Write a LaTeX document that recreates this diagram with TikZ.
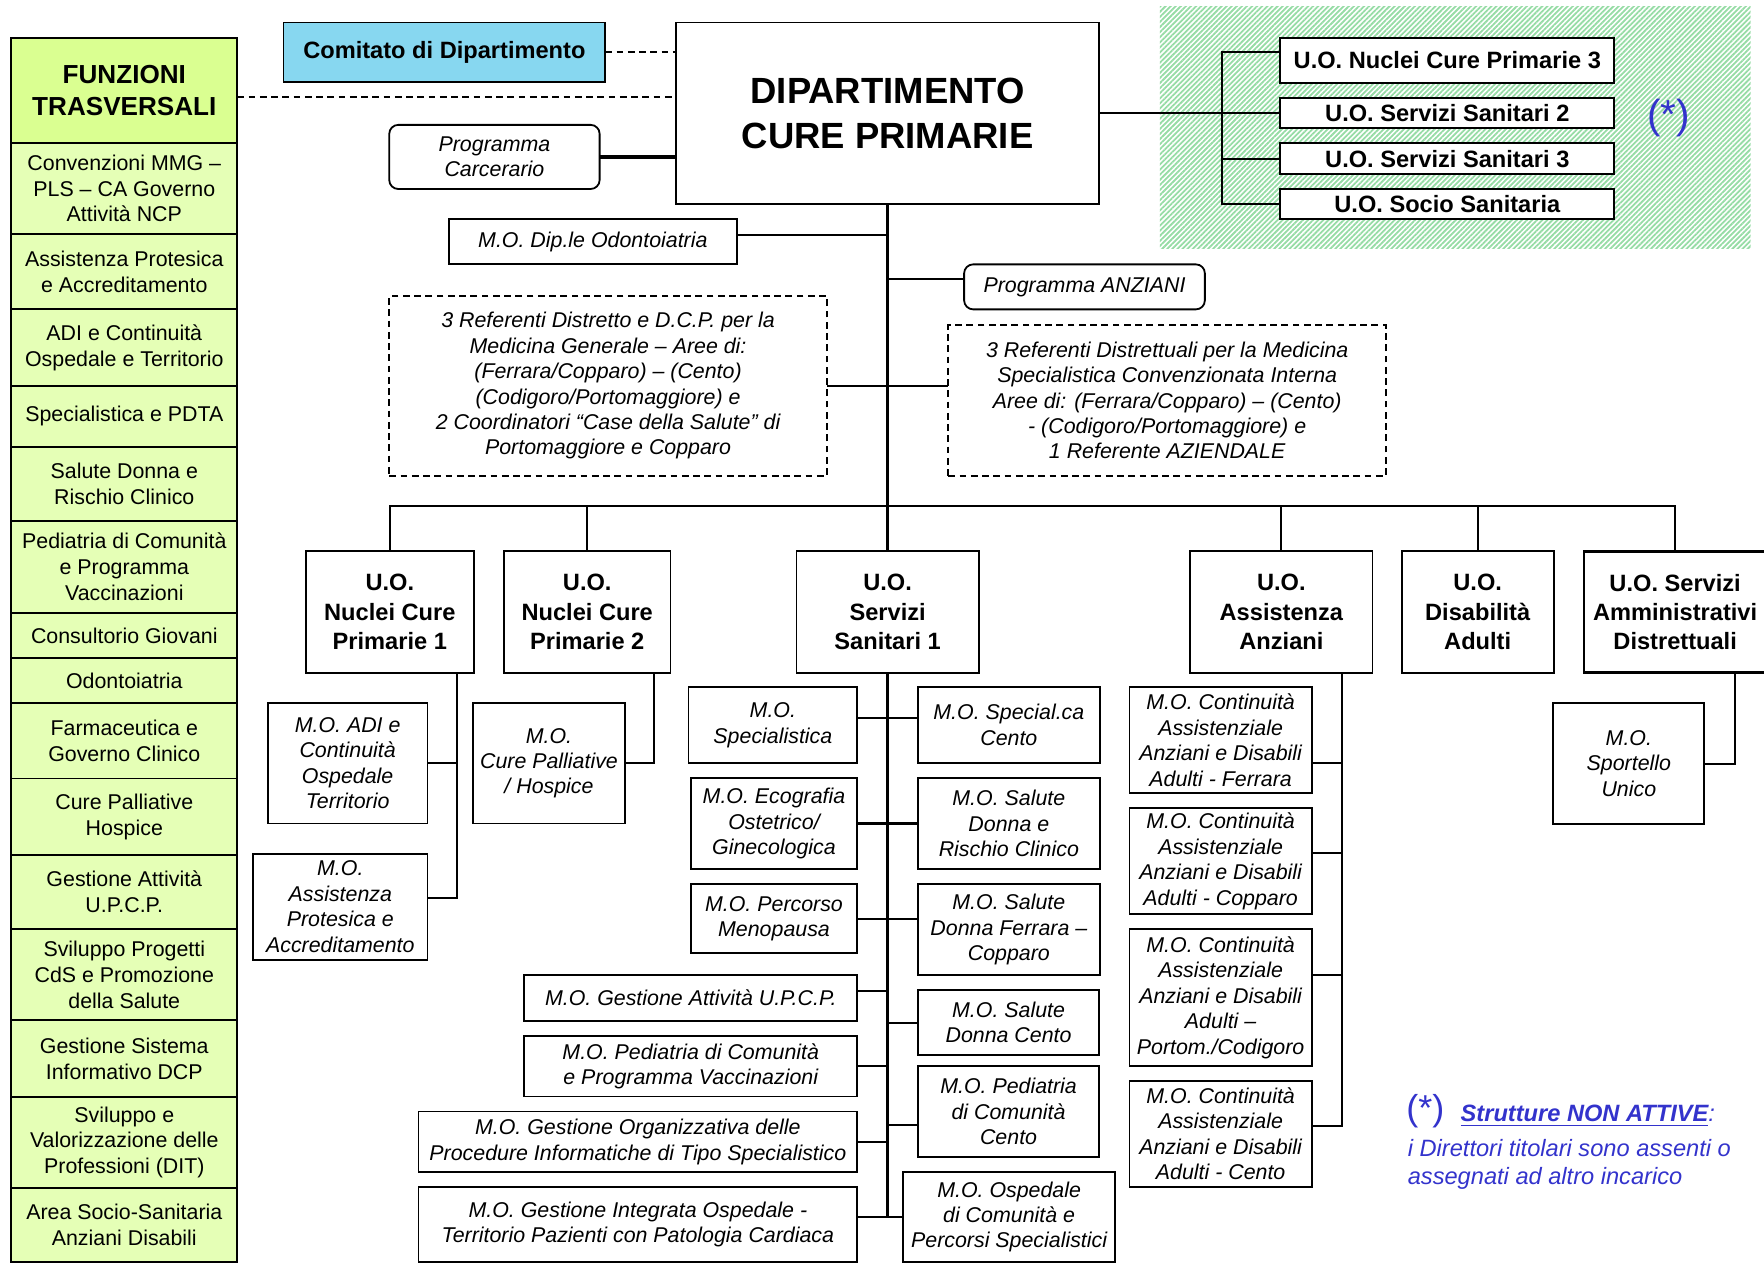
\documentclass[tikz,border=0pt]{standalone}
\usepackage{fontspec}
\setmainfont{Liberation Sans}
\usetikzlibrary{positioning,patterns.meta}

\definecolor{hdrgreen}{RGB}{218,255,145}
\definecolor{cellgreen}{RGB}{229,255,182}
\definecolor{comblue}{RGB}{135,215,240}
\definecolor{hatchgreen}{RGB}{150,220,165}
\definecolor{noteblue}{RGB}{51,51,204}

\tikzset{
  base/.style={draw, line width=0.8pt, align=center, inner sep=0pt, outer sep=0pt},
  fnbox/.style={base, fill=cellgreen, minimum width=100.5pt, font=\fontsize{9.5}{11.5}\selectfont},
  mobox/.style={base, font=\itshape\fontsize{9.5}{11.3}\selectfont},
  uobox/.style={base, minimum height=54pt, font=\bfseries\fontsize{10.5}{13}\selectfont},
  topbox/.style={base, fill=white, minimum width=148.5pt, font=\bfseries\fontsize{10.5}{12}\selectfont},
  refbox/.style={base, dash pattern=on 3pt off 2pt, minimum width=194.5pt, font=\itshape\fontsize{9.5}{11.3}\selectfont},
  prog/.style={base, rounded corners=4pt, font=\itshape\fontsize{9.5}{11.3}\selectfont},
  link/.style={line width=0.9pt},
  trunk/.style={line width=1.5pt},
}

\begin{document}
\begin{tikzpicture}[x=0.5pt,y=-0.5pt]
\useasboundingbox (0,0) rectangle (1568,1123);

% funzioni trasversali
\node[fnbox, fill=hdrgreen, minimum height=46.5pt, font=\bfseries\fontsize{11.6}{14}\selectfont] (ft) at (110.5,80.5) {FUNZIONI\\TRASVERSALI};
\node[fnbox, minimum height=40.5pt, below=0pt of ft] (ft1) {Convenzioni MMG –\\PLS – CA Governo\\Attività NCP};
\node[fnbox, minimum height=33.5pt, below=0pt of ft1] (ft2) {Assistenza Protesica\\e Accreditamento};
\node[fnbox, minimum height=34pt, below=0pt of ft2] (ft3) {ADI e Continuità\\Ospedale e Territorio};
\node[fnbox, minimum height=27pt, below=0pt of ft3] (ft4) {Specialistica e PDTA};
\node[fnbox, minimum height=33pt, below=0pt of ft4] (ft5) {Salute Donna e\\Rischio Clinico};
\node[fnbox, minimum height=41pt, below=0pt of ft5] (ft6) {Pediatria di Comunità\\e Programma\\Vaccinazioni};
\node[fnbox, minimum height=20pt, below=0pt of ft6] (ft7) {Consultorio Giovani};
\node[fnbox, minimum height=20pt, below=0pt of ft7] (ft8) {Odontoiatria};
\node[fnbox, minimum height=33.5pt, below=0pt of ft8] (ft9) {Farmaceutica e\\Governo Clinico};
\node[fnbox, minimum height=34pt, below=0pt of ft9] (ft10) {Cure Palliative\\Hospice};
\node[fnbox, minimum height=33pt, below=0pt of ft10] (ft11) {Gestione Attività\\U.P.C.P.};
\node[fnbox, minimum height=40.5pt, below=0pt of ft11] (ft12) {Sviluppo Progetti\\CdS e Promozione\\della Salute};
\node[fnbox, minimum height=34pt, below=0pt of ft12] (ft13) {Gestione Sistema\\Informativo DCP};
\node[fnbox, minimum height=40.5pt, below=0pt of ft13] (ft14) {Sviluppo e\\Valorizzazione delle\\Professioni (DIT)};
\node[fnbox, minimum height=33pt, below=0pt of ft14] (ft15) {Area Socio-Sanitaria\\Anziani Disabili};

% dipartimento
\node[base, fill=comblue, minimum width=143pt, minimum height=26.5pt, font=\bfseries\fontsize{10.5}{12}\selectfont] (com) at (395,46.5) {Comitato di Dipartimento};
\node[base, minimum width=188pt, minimum height=80.5pt, font=\bfseries\fontsize{16.2}{20}\selectfont] (dip) at (789,100.5) {DIPARTIMENTO\\CURE PRIMARIE};
\node[prog, minimum width=93.5pt, minimum height=28.5pt] (carc) at (439.5,139.5) {Programma\\Carcerario};
\node[mobox, minimum width=128pt, minimum height=20pt] (odon) at (527,215) {M.O. Dip.le Odontoiatria};
\node[prog, minimum width=107pt, minimum height=20pt] (anz) at (964,255) {Programma ANZIANI};
\node[refbox, minimum height=80pt] (refl) at (540.5,343) {3 Referenti Distretto e D.C.P. per la\\Medicina Generale – Aree di:\\(Ferrara/Copparo) – (Cento)\\(Codigoro/Portomaggiore) e\\2 Coordinatori “Case della Salute” di\\Portomaggiore e Copparo};
\node[refbox, minimum height=67pt] (refr) at (1037.5,356) {3 Referenti Distrettuali per la Medicina\\Specialistica Convenzionata Interna\\Aree di: (Ferrara/Copparo) – (Cento)\\- (Codigoro/Portomaggiore) e\\1 Referente AZIENDALE};

% strutture non attive
\fill[pattern={Lines[angle=45,distance=1.6pt,line width=0.8pt]}, pattern color=hatchgreen] (1031,6) rectangle (1556,221);
\node[topbox, minimum height=20pt] (nuc3) at (1286.5,53.5) {U.O. Nuclei Cure Primarie 3};
\node[topbox, minimum height=13.5pt] (ss2) at (1286.5,100.5) {U.O. Servizi Sanitari 2};
\node[topbox, minimum height=14pt] (ss3) at (1286.5,141) {U.O. Servizi Sanitari 3};
\node[topbox, minimum height=13.5pt] (soc) at (1286.5,181.5) {U.O. Socio Sanitaria};
\node[text=noteblue, font=\fontsize{18}{18}\selectfont] (star) at (1483,105) {(*)};

\draw[link, dash pattern=on 3pt off 2pt] (com.east) -- (com.east -| dip.west);
\draw[link, dash pattern=on 3pt off 2pt] ([yshift=-3pt]ft.east) -- ([yshift=-3pt]ft.east -| dip.west);
\draw[trunk] (carc.east) -- (carc.east -| dip.west);
\draw[link] (dip.east) -- (ss2.west);
\coordinate (brk) at (1086,0);
\draw[link] ([yshift=3.5pt]nuc3.west) -| (brk |- soc.west) -- (soc.west);
\draw[link] (ss3.west) -- (ss3.west -| brk);

\coordinate (bus) at (0,450);
\draw[trunk] (dip.south) -- (dip.south |- bus);
\draw[link] ([yshift=3pt]odon.east) -- ([yshift=3pt]odon.east -| dip.south);
\draw[link] ([yshift=3.5pt]anz.west) -- ([yshift=3.5pt]anz.west -| dip.south);
\draw[link] (refl.east) -- (refl.east -| refr.west);

% unita operative
\node[uobox, minimum width=74.5pt] (ncp1) at (346.5,544) {U.O.\\Nuclei Cure\\Primarie 1};
\node[uobox, minimum width=74pt] (ncp2) at (522,544) {U.O.\\Nuclei Cure\\Primarie 2};
\node[uobox, minimum width=81pt] (ss1) at (789,544) {U.O.\\Servizi\\Sanitari 1};
\node[uobox, minimum width=81pt] (aa) at (1139,544) {U.O.\\Assistenza\\Anziani};
\node[uobox, minimum width=67.5pt] (dis) at (1313.5,544) {U.O.\\Disabilità\\Adulti};
\node[uobox, minimum width=81pt, line width=1.3pt] (amm) at (1489,544) {U.O. Servizi\\Amministrativi\\Distrettuali};

\draw[link] (ncp1.north) |- (amm.north |- bus) -- (amm.north);
\draw[link] (ncp2.north) -- (ncp2.north |- bus);
\draw[trunk] (ss1.north) -- (ss1.north |- bus);
\draw[link] (aa.north) -- (aa.north |- bus);
\draw[link] (dis.north) -- (dis.north |- bus);

% nuclei cure primarie
\node[mobox, minimum width=71pt, minimum height=53.5pt] (adi) at (309,678.5) {M.O. ADI e\\Continuità\\Ospedale\\Territorio};
\node[mobox, minimum width=77.5pt, minimum height=47pt] (prot) at (302.5,806) {M.O.\\Assistenza\\Protesica e\\Accreditamento};
\node[mobox, minimum width=67.25pt, minimum height=53.5pt] (cpal) at (488,678.5) {M.O.\\Cure Palliative\\/ Hospice};
\coordinate (v1) at (406,0);
\coordinate (v2) at (581.5,0);
\draw[link] (v1 |- ncp1.south) |- ([yshift=4pt]prot.east);
\draw[link] (adi.east) -- (adi.east -| v1);
\draw[link] (v2 |- ncp2.south) |- (cpal.east);

% servizi sanitari 1
\node[mobox, minimum width=75pt, minimum height=33.5pt] (spec) at (687,644.5) {M.O.\\Specialistica};
\node[mobox, minimum width=74pt, minimum height=40.5pt] (ecog) at (688,732) {M.O. Ecografia\\Ostetrico/\\Ginecologica};
\node[mobox, minimum width=74pt, minimum height=30.7pt] (meno) at (688,816.7) {M.O. Percorso\\Menopausa};
\node[mobox, minimum width=148pt, minimum height=20.5pt] (gatt) at (614,887) {M.O. Gestione Attività U.P.C.P.};
\node[mobox, minimum width=148pt, minimum height=27pt] (pedl) at (614,947.7) {M.O. Pediatria di Comunità\\e Programma Vaccinazioni};
\node[mobox, minimum width=195pt, minimum height=27pt] (gorg) at (567,1015) {M.O. Gestione Organizzativa delle\\Procedure Informatiche di Tipo Specialistico};
\node[mobox, minimum width=195pt, minimum height=33.5pt] (gint) at (567,1088.4) {M.O. Gestione Integrata Ospedale -\\Territorio Pazienti con Patologia Cardiaca};
\node[mobox, minimum width=80.75pt, minimum height=33.5pt] (specc) at (896.75,644.5) {M.O. Special.ca\\Cento};
\node[mobox, minimum width=80.75pt, minimum height=40.5pt] (sdon) at (896.75,732) {M.O. Salute\\Donna e\\Rischio Clinico};
\node[mobox, minimum width=80.75pt, minimum height=40.35pt] (sdfc) at (896.75,826.3) {M.O. Salute\\Donna Ferrara –\\Copparo};
\node[mobox, minimum width=80.5pt, minimum height=29pt] (sdce) at (896.5,909) {M.O. Salute\\Donna Cento};
\node[mobox, minimum width=80.5pt, minimum height=40.5pt] (pedc) at (896.5,988.2) {M.O. Pediatria\\di Comunità\\Cento};
\node[mobox, minimum width=94pt, minimum height=40.25pt] (osp) at (897,1081.8) {M.O. Ospedale\\di Comunità e\\Percorsi Specialistici};

\draw[trunk] (ss1.south) -- (ss1.south |- osp.west);
\draw[link] ([yshift=3pt]spec.east) -- ([yshift=3pt]specc.west);
\draw[link] (ecog.east) -- (sdon.west);
\draw[link] (meno.east) -- (meno.east -| sdfc.west);
\draw[link] ([yshift=3pt]gatt.east) -- ([yshift=3pt]gatt.east -| ss1.south);
\draw[link] (sdce.west) -- (sdce.west -| ss1.south);
\draw[link] (pedl.east) -- (pedl.east -| ss1.south);
\draw[link] ([yshift=-6pt]pedc.west) -- ([yshift=-6pt]pedc.west -| ss1.south);
\draw[link] (gorg.east) -- (gorg.east -| ss1.south);
\draw[link] (gint.east |- osp.west) -- (osp.west);

% assistenza anziani
\node[mobox, minimum width=81pt, minimum height=47pt] (cf) at (1085,658) {M.O. Continuità\\Assistenziale\\Anziani e Disabili\\Adulti - Ferrara};
\node[mobox, minimum width=81pt, minimum height=47.1pt] (cc) at (1085,765.6) {M.O. Continuità\\Assistenziale\\Anziani e Disabili\\Adulti - Copparo};
\node[mobox, minimum width=81pt, minimum height=60.65pt] (cp) at (1085,886.7) {M.O. Continuità\\Assistenziale\\Anziani e Disabili\\Adulti –\\Portom./Codigoro};
\node[mobox, minimum width=81pt, minimum height=47.1pt] (ce) at (1085,1007.7) {M.O. Continuità\\Assistenziale\\Anziani e Disabili\\Adulti - Cento};
\coordinate (v3) at (1192.7,0);
\draw[link] (v3 |- aa.south) |- ([yshift=3.5pt]ce.east);
\draw[link] ([yshift=-10pt]cf.east) -- ([yshift=-10pt]cf.east -| v3);
\draw[link] ([yshift=3.5pt]cc.east) -- ([yshift=3.5pt]cc.east -| v3);
\draw[link] ([yshift=10pt]cp.east) -- ([yshift=10pt]cp.east -| v3);

% servizi amministrativi
\node[mobox, minimum width=67.15pt, minimum height=53.75pt] (spor) at (1447.85,678.75) {M.O.\\Sportello\\Unico};
\coordinate (v4) at (1542,0);
\draw[link] (v4 |- amm.south) |- (spor.east);

% nota
\node[text=noteblue, font=\fontsize{16}{16}\selectfont] (star2) at (1267,988) {(*)};
\node[text=noteblue, anchor=base west, inner sep=0pt, font=\bfseries\itshape\fontsize{10.5}{12.5}\selectfont] (ntit) at (1298,997) {\underline{Strutture NON ATTIVE}\textmd{:}};
\node[text=noteblue, anchor=north west, align=left, inner sep=0pt, font=\itshape\fontsize{10.5}{12.5}\selectfont] (ntxt) at (1251,1012) {i Direttori titolari sono assenti o\\assegnati ad altro incarico};
\end{tikzpicture}
\end{document}
